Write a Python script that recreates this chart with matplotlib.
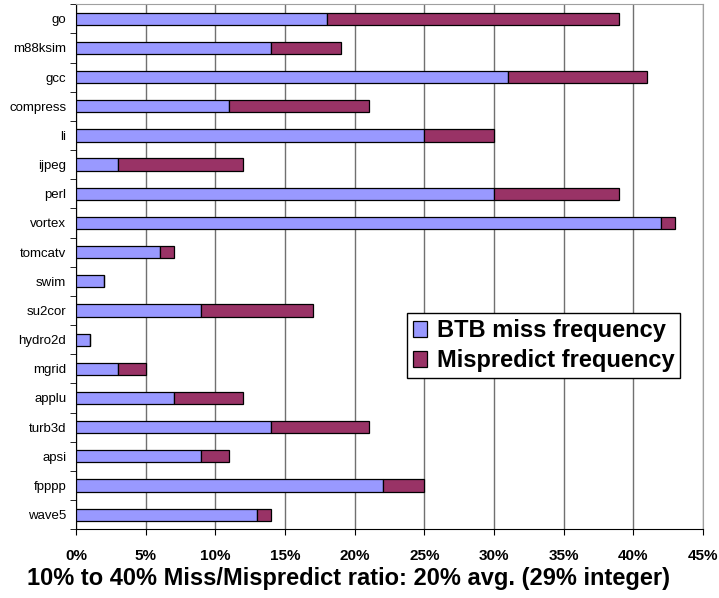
import matplotlib
matplotlib.use('Agg')
import matplotlib.pyplot as plt
import numpy as np

plt.rcParams['font.family'] = ['Liberation Sans', 'DejaVu Sans']

benchmarks = ['go', 'm88ksim', 'gcc', 'compress', 'li', 'ijpeg', 'perl', 'vortex',
              'tomcatv', 'swim', 'su2cor', 'hydro2d', 'mgrid', 'applu', 'turb3d',
              'apsi', 'fpppp', 'wave5']
btb_miss = [18, 14, 31, 11, 25, 3, 30, 42, 6, 2, 9, 1, 3, 7, 14, 9, 22, 13]
mispredict = [21, 5, 10, 10, 5, 9, 9, 1, 1, 0, 8, 0, 2, 5, 7, 2, 3, 1]
xticks = [0, 5, 10, 15, 20, 25, 30, 35, 40, 45]

fig = plt.figure(figsize=(7.19, 5.98), dpi=100)
ax = fig.add_axes([0.1057, 0.115, 0.872, 0.878])

y = np.arange(len(benchmarks))
ax.barh(y, btb_miss, height=0.42, color='#9999FF', edgecolor='black',
        linewidth=0.9, label='BTB miss frequency', zorder=3)
ax.barh(y, mispredict, left=btb_miss, height=0.42, color='#993366',
        edgecolor='black', linewidth=0.9, label='Mispredict frequency', zorder=3)

ax.set_ylim(len(benchmarks) - 0.5, -0.5)
ax.set_xlim(0, 45)
ax.set_yticks(y)
ax.set_yticklabels(benchmarks, fontsize=9.5)
ax.set_yticks(np.arange(len(benchmarks) + 1) - 0.5, minor=True)
ax.tick_params(axis='y', which='major', length=0, pad=7)
ax.tick_params(axis='y', which='minor', length=4, direction='out')

ax.set_xticks(xticks)
ax.set_xticklabels([str(v) + '%' for v in xticks], fontsize=11, fontweight='bold')
ax.tick_params(axis='x', length=4, direction='out', pad=10)

ax.grid(axis='x', color='#707070', linewidth=1, zorder=0)
ax.spines['top'].set_color('#A0A0A0')
ax.spines['right'].set_color('#A0A0A0')

ax.set_xlabel('10% to 40% Miss/Mispredict ratio: 20% avg. (29% integer)',
              fontsize=17, fontweight='bold')
ax.xaxis.set_label_coords(0.434, -0.072)

leg = ax.legend(loc='upper left', bbox_to_anchor=(0.528, 0.411),
                prop={'weight': 'bold', 'size': 17}, fancybox=False,
                edgecolor='black', framealpha=1, handlelength=0.6,
                handleheight=0.7, handletextpad=0.4, borderpad=0.25,
                labelspacing=0.3, borderaxespad=0)
leg.get_frame().set_linewidth(1)

fig.savefig('out.png', dpi=100)
